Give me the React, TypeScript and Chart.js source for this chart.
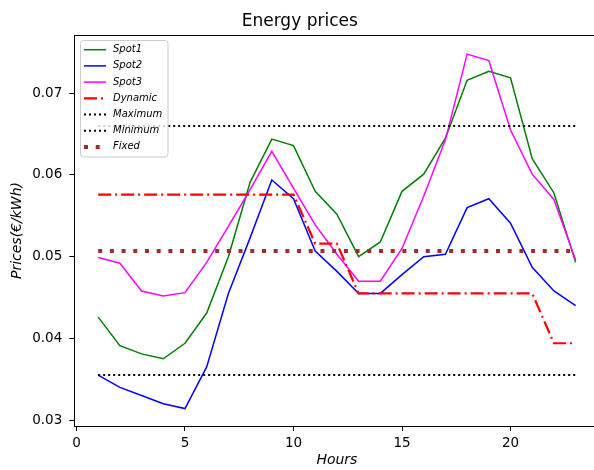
import React, { useEffect, useRef } from "react";
import { Chart, registerables } from "chart.js";

Chart.register(...registerables);

// ---------------- data ----------------
const hours = [1, 2, 3, 4, 5, 6, 7, 8, 9, 10, 11, 12, 13, 14, 15, 16, 17, 18, 19, 20, 21, 22, 23];
const spot1 = [0.0426, 0.0391, 0.0381, 0.0375, 0.0394, 0.0431, 0.0500, 0.0591, 0.0644, 0.0636, 0.0580, 0.0552, 0.0500, 0.0518, 0.0580, 0.0601, 0.0645, 0.0716, 0.0727, 0.0719, 0.0620, 0.0578, 0.0493];
const spot2 = [0.0355, 0.0340, 0.0330, 0.0320, 0.0314, 0.0365, 0.0455, 0.0523, 0.0594, 0.0571, 0.0507, 0.0482, 0.0455, 0.0455, 0.0478, 0.0500, 0.0503, 0.0560, 0.0571, 0.0541, 0.0487, 0.0458, 0.0440];
const spot3 = [0.0499, 0.0492, 0.0458, 0.0452, 0.0456, 0.0493, 0.0537, 0.0582, 0.0629, 0.0584, 0.0539, 0.0503, 0.0470, 0.0470, 0.0510, 0.0574, 0.0643, 0.0748, 0.0740, 0.0655, 0.0601, 0.0570, 0.0496];
const dynamic = [0.0576, 0.0576, 0.0576, 0.0576, 0.0576, 0.0576, 0.0576, 0.0576, 0.0576, 0.0576, 0.0516, 0.0516, 0.0455, 0.0455, 0.0455, 0.0455, 0.0455, 0.0455, 0.0455, 0.0455, 0.0455, 0.0394, 0.0394];
const maximumPrice = 0.0660;
const minimumPrice = 0.0355;
const fixedPrice = 0.0507;

const seriesNames = ["Spot1", "Spot2", "Spot3", "Dynamic", "Maximum", "Minimum", "Fixed"];
const xTicks = [0, 5, 10, 15, 20];
const yTicks = [0.03, 0.04, 0.05, 0.06, 0.07];

const FONT = '"DejaVu Sans", sans-serif';

const toPoints = (ys: number[]) => hours.map((h, i) => ({ x: h, y: ys[i] }));
const constLine = (v: number) => hours.map((h) => ({ x: h, y: v }));

const frameAndLegend = {
  id: "frameAndLegend",
  afterDatasetsDraw(chart: any) {
    const { ctx, chartArea } = chart;
    ctx.save();
    ctx.strokeStyle = "#000";
    ctx.lineWidth = 1;
    ctx.beginPath();
    ctx.moveTo(chartArea.left, Math.round(chartArea.top) + 0.5);
    ctx.lineTo(chartArea.right, Math.round(chartArea.top) + 0.5);
    ctx.moveTo(Math.round(chartArea.right) + 0.5, chartArea.top);
    ctx.lineTo(Math.round(chartArea.right) + 0.5, chartArea.bottom);
    ctx.stroke();
    ctx.restore();
  },
  afterDraw(chart: any) {
    const { ctx } = chart;
    const bx = 80.5, by = 40.5, bw = 87.5, bh = 116.5, r = 3;
    ctx.save();
    ctx.beginPath();
    ctx.moveTo(bx + r, by);
    ctx.lineTo(bx + bw - r, by);
    ctx.arcTo(bx + bw, by, bx + bw, by + r, r);
    ctx.lineTo(bx + bw, by + bh - r);
    ctx.arcTo(bx + bw, by + bh, bx + bw - r, by + bh, r);
    ctx.lineTo(bx + r, by + bh);
    ctx.arcTo(bx, by + bh, bx, by + bh - r, r);
    ctx.lineTo(bx, by + r);
    ctx.arcTo(bx, by, bx + r, by, r);
    ctx.closePath();
    ctx.fillStyle = "rgba(255,255,255,0.8)";
    ctx.fill();
    ctx.strokeStyle = "#cccccc";
    ctx.lineWidth = 1;
    ctx.stroke();

    const rowY0 = 49.7;
    const rowStep = 16.2;
    chart.data.datasets.forEach((ds: any, i: number) => {
      const y = rowY0 + i * rowStep;
      ctx.beginPath();
      ctx.setLineDash(ds.borderDash || []);
      ctx.lineDashOffset = 0;
      ctx.strokeStyle = ds.borderColor;
      ctx.lineWidth = ds.borderWidth;
      ctx.lineCap = "butt";
      ctx.moveTo(84, y);
      ctx.lineTo(106, y);
      ctx.stroke();
      ctx.setLineDash([]);
      ctx.fillStyle = "#000";
      ctx.font = `italic 10px ${FONT}`;
      ctx.textBaseline = "middle";
      ctx.textAlign = "left";
      ctx.fillText(ds.label, 113, y);
    });
    ctx.restore();
  },
};

export default function App() {
  const canvasRef = useRef<HTMLCanvasElement | null>(null);

  useEffect(() => {
    if (!canvasRef.current) return;
    const line = (label: string, data: any[], color: string, width: number, dash: number[], order: number) => ({
      label,
      data,
      borderColor: color,
      backgroundColor: color,
      borderWidth: width,
      borderDash: dash,
      pointRadius: 0,
      pointHoverRadius: 0,
      fill: false,
      tension: 0,
      order,
    });
    const chart = new Chart(canvasRef.current, {
      type: "line",
      data: {
        datasets: [
          line(seriesNames[0], toPoints(spot1), "#008000", 1.5, [], 7),
          line(seriesNames[1], toPoints(spot2), "#0000ff", 1.5, [], 6),
          line(seriesNames[2], toPoints(spot3), "#ff00ff", 1.5, [], 5),
          line(seriesNames[3], toPoints(dynamic), "#ff0000", 2.2, [13, 4, 2, 4], 4),
          line(seriesNames[4], constLine(maximumPrice), "#000000", 2, [2, 3], 3),
          line(seriesNames[5], constLine(minimumPrice), "#000000", 2, [2, 3], 2),
          line(seriesNames[6], constLine(fixedPrice), "#a52a2a", 4, [4, 7.7], 1),
        ],
      },
      options: {
        animation: false,
        responsive: false,
        devicePixelRatio: 1,
        layout: { padding: { left: 0, right: 74.5, top: 0, bottom: 0 } },
        plugins: {
          legend: { display: false },
          tooltip: { enabled: false },
          title: {
            display: true,
            text: "Energy prices",
            color: "#000",
            font: { family: FONT, size: 17, weight: "normal" },
            padding: { top: 11.3, bottom: 3.3 },
          },
        },
        scales: {
          x: {
            type: "linear",
            min: -0.1,
            max: 24.1,
            afterBuildTicks: (s: any) => {
              s.ticks = xTicks.map((v) => ({ value: v }));
            },
            afterFit: (s: any) => {
              s.height = 44;
            },
            ticks: {
              color: "#000",
              font: { family: FONT, size: 13.5 },
              padding: 4,
              maxRotation: 0,
              autoSkip: false,
              callback: (v: any) => String(v),
            },
            grid: {
              display: true,
              drawOnChartArea: false,
              drawTicks: true,
              tickLength: 5,
              color: "#000",
            },
            border: { display: true, color: "#000", width: 1 },
            title: {
              display: true,
              text: "Hours",
              color: "#000",
              font: { family: FONT, size: 14, style: "italic" },
              padding: { top: 0, bottom: 1 },
            },
          },
          y: {
            type: "linear",
            min: 0.02927,
            max: 0.07714,
            afterBuildTicks: (s: any) => {
              s.ticks = yTicks.map((v) => ({ value: v }));
            },
            afterFit: (s: any) => {
              s.width = 74.3;
            },
            ticks: {
              color: "#000",
              font: { family: FONT, size: 13.5 },
              padding: 7,
              autoSkip: false,
              callback: (v: any) => Number(v).toFixed(2),
            },
            grid: {
              display: true,
              drawOnChartArea: false,
              drawTicks: true,
              tickLength: 5,
              color: "#000",
            },
            border: { display: true, color: "#000", width: 1 },
            title: {
              display: true,
              text: "Prices(€/kWh)",
              color: "#000",
              font: { family: FONT, size: 14, style: "italic" },
              padding: { top: 9, bottom: 0 },
            },
          },
        },
      },
      plugins: [frameAndLegend],
    } as any);
    return () => chart.destroy();
  }, []);

  return (
    <div style={{ position: "fixed", left: 0, top: 0, width: 594, height: 470, overflow: "hidden", background: "#fff" }}>
      <canvas ref={canvasRef} width={674} height={470} style={{ display: "block" }} />
    </div>
  );
}
